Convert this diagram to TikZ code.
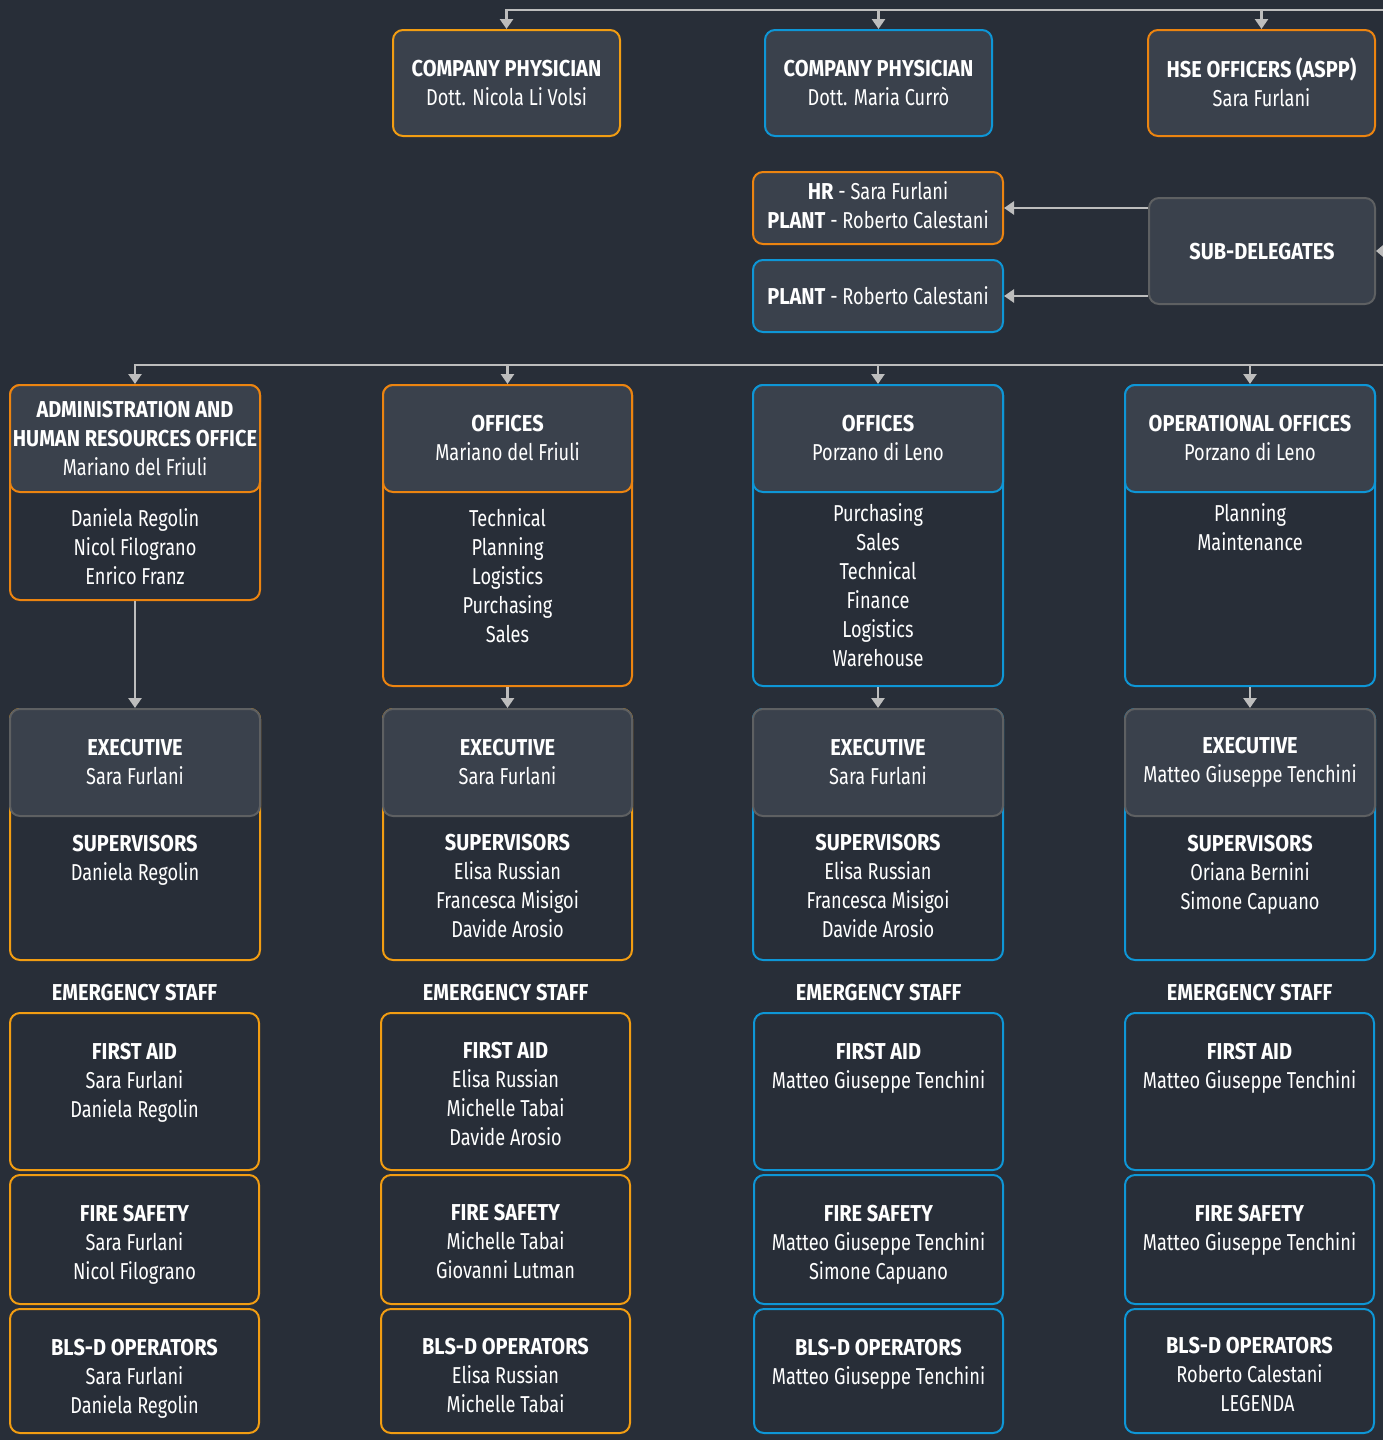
\documentclass[tikz,border=0pt]{standalone}
\usepackage{fontspec}
\setmainfont{Fira Sans}[UprightFeatures={FakeStretch=0.79},BoldFeatures={FakeStretch=0.87}]
\usepackage{tikz}
\usetikzlibrary{positioning,arrows.meta}
\definecolor{bg}{HTML}{282E38}
\definecolor{panel}{HTML}{3A414C}
\definecolor{rim}{HTML}{5E6062}
\definecolor{wire}{HTML}{BDBDBD}
\definecolor{orange}{HTML}{EC8410}
\definecolor{amber}{HTML}{F29D12}
\definecolor{sky}{HTML}{0E96D6}

\begin{document}
\begin{tikzpicture}[x=1pt,y=-1pt,
    every node/.style={text=white,font=\fontsize{23}{29}\selectfont,align=center,inner sep=0pt,
      execute at begin node={\rule{0pt}{28pt}},execute at end node={\rule[-1pt]{0pt}{1pt}}},
    box/.style={rounded corners=10pt,line width=2pt,fill=bg,minimum width=250pt},
    head/.style={box,fill=panel,minimum height=107pt},
    duty/.style={box,minimum width=249pt},
    conn/.style={draw=wire,line width=2.5pt,-{Triangle[length=10pt,width=13pt]}}]
    \fill[bg] (0,0) rectangle (1383,1440);
    \useasboundingbox (0,0) rectangle (1383,1440);
    % top row
    \node[head,draw=amber,minimum width=227pt,minimum height=106pt] (cpa) at (506.5,83) {\textbf{COMPANY PHYSICIAN}\\Dott. Nicola Li Volsi};
    \node[head,draw=sky,minimum width=227pt,minimum height=106pt] (cpb) at (878.5,83) {\textbf{COMPANY PHYSICIAN}\\Dott. Maria Currò};
    \node[head,draw=orange,minimum width=227pt,minimum height=106pt] (hse) at (1261.5,83) {\textbf{HSE OFFICERS (ASPP)}\\Sara Furlani};
    % sub-delegates
    \node[head,draw=orange,minimum height=72pt] (hr) at (878,208) {\textbf{HR} - Sara Furlani\\\textbf{PLANT} - Roberto Calestani\rule[-5pt]{0pt}{5pt}};
    \node[head,draw=sky,minimum height=72pt,below=14pt of hr] (plant) {\textbf{PLANT} - Roberto Calestani\rule[-12pt]{0pt}{12pt}};
    \node[head,draw=rim,minimum width=226pt,minimum height=106pt] (sub) at (1262,251) {\textbf{SUB-DELEGATES}\rule[-11pt]{0pt}{11pt}};
    % offices
    \node[box,draw=orange,minimum height=215pt] (adm) at (135,492.5) {};
    \node[head,draw=orange] (admh) at (135,438.5) {\textbf{ADMINISTRATION AND}\\\textbf{HUMAN RESOURCES OFFICE}\\Mariano del Friuli};
    \node (admt) at (135,547) {Daniela Regolin\\Nicol Filograno\\Enrico Franz};
    \node[box,draw=orange,minimum width=249pt,minimum height=301pt] (offa) at (507.5,535.5) {};
    \node[head,draw=orange,minimum width=249pt] (offah) at (507.5,438.5) {\textbf{OFFICES}\\Mariano del Friuli};
    \node (offat) at (507.5,576.5) {Technical\\Planning\\Logistics\\Purchasing\\Sales};
    \node[box,draw=sky,minimum height=301pt] (offb) at (878,535.5) {};
    \node[head,draw=sky] (offbh) at (878,438.5) {\textbf{OFFICES}\\Porzano di Leno};
    \node (offbt) at (878,586) {Purchasing\\Sales\\Technical\\Finance\\Logistics\\Warehouse};
    \node[box,draw=sky,minimum height=301pt] (ops) at (1250,535.5) {};
    \node[head,draw=sky] (opsh) at (1250,438.5) {\textbf{OPERATIONAL OFFICES}\\Porzano di Leno};
    \node (opst) at (1250,527.5) {Planning\\Maintenance};
    % executives
    \node[box,draw=amber,minimum height=251pt] (exa) at (135,834.5) {};
    \node[head,draw=rim] (exah) at (135,762.5) {\textbf{EXECUTIVE}\\Sara Furlani};
    \node (exat) at (135,860.5) {\textbf{SUPERVISORS}\\Daniela Regolin};
    \node[box,draw=amber,minimum width=249pt,minimum height=251pt] (exb) at (507.5,834.5) {};
    \node[head,draw=rim,minimum width=249pt] (exbh) at (507.5,762.5) {\textbf{EXECUTIVE}\\Sara Furlani};
    \node (exbt) at (507.5,886.5) {\textbf{SUPERVISORS}\\Elisa Russian\\Francesca Misigoi\\Davide Arosio};
    \node[box,draw=sky,minimum height=251pt] (exc) at (878,834.5) {};
    \node[head,draw=rim] (exch) at (878,762.5) {\textbf{EXECUTIVE}\\Sara Furlani};
    \node (exct) at (878,886.5) {\textbf{SUPERVISORS}\\Elisa Russian\\Francesca Misigoi\\Davide Arosio};
    \node[box,draw=sky,minimum height=251pt] (exd) at (1250,834.5) {};
    \node[head,draw=rim] (exdh) at (1250,762.5) {\textbf{EXECUTIVE}\\Matteo Giuseppe Tenchini};
    \node (exdt) at (1250,875) {\textbf{SUPERVISORS}\\Oriana Bernini\\Simone Capuano};
    % emergency staff
    \node (ema) at (134.5,987) {\textbf{EMERGENCY STAFF}};
    \node (emb) at (505.5,987) {\textbf{EMERGENCY STAFF}};
    \node (emc) at (878.5,987) {\textbf{EMERGENCY STAFF}};
    \node (emd) at (1249.5,987) {\textbf{EMERGENCY STAFF}};
    \node[duty,draw=amber,minimum height=157pt] (faa) at (134.5,1091.5) {};
    \node[duty,draw=amber,minimum height=129pt] (fsa) at (134.5,1239.5) {};
    \node[duty,draw=amber,minimum height=124pt] (bla) at (134.5,1371) {};
    \node[duty,draw=amber,minimum height=157pt] (fab) at (505.5,1091.5) {};
    \node[duty,draw=amber,minimum height=129pt] (fsb) at (505.5,1239.5) {};
    \node[duty,draw=amber,minimum height=124pt] (blb) at (505.5,1371) {};
    \node[duty,draw=sky,minimum height=157pt] (fac) at (878.5,1091.5) {};
    \node[duty,draw=sky,minimum height=129pt] (fsc) at (878.5,1239.5) {};
    \node[duty,draw=sky,minimum height=124pt] (blc) at (878.5,1371) {};
    \node[duty,draw=sky,minimum height=157pt] (fad) at (1249.5,1091.5) {};
    \node[duty,draw=sky,minimum height=129pt] (fsd) at (1249.5,1239.5) {};
    \node[duty,draw=sky,minimum height=124pt] (bld) at (1249.5,1371) {};
    \node (faat) at (134.5,1083) {\textbf{FIRST AID}\\Sara Furlani\\Daniela Regolin};
    \node (fsat) at (134.5,1245) {\textbf{FIRE SAFETY}\\Sara Furlani\\Nicol Filograno};
    \node (blat) at (134.5,1379) {\textbf{BLS-D OPERATORS}\\Sara Furlani\\Daniela Regolin};
    \node (fabt) at (505.5,1094.5) {\textbf{FIRST AID}\\Elisa Russian\\Michelle Tabai\\Davide Arosio};
    \node (fsbt) at (505.5,1242) {\textbf{FIRE SAFETY}\\Michelle Tabai\\Giovanni Lutman};
    \node (blbt) at (505.5,1376) {\textbf{BLS-D OPERATORS}\\Elisa Russian\\Michelle Tabai};
    \node (fact) at (878.5,1068.5) {\textbf{FIRST AID}\\Matteo Giuseppe Tenchini};
    \node (fsct) at (878.5,1245) {\textbf{FIRE SAFETY}\\Matteo Giuseppe Tenchini\\Simone Capuano};
    \node (blct) at (878.5,1364.5) {\textbf{BLS-D OPERATORS}\\Matteo Giuseppe Tenchini};
    \node (fadt) at (1249.5,1068.5) {\textbf{FIRST AID}\\Matteo Giuseppe Tenchini};
    \node (fsdt) at (1249.5,1230.5) {\textbf{FIRE SAFETY}\\Matteo Giuseppe Tenchini};
    \node (bldt) at (1249.5,1375) {\textbf{BLS-D OPERATORS}\\Roberto Calestani\\\hspace*{16pt}LEGENDA};
    % connectors
    \coordinate (topR) at (1383,10);
    \coordinate (midR) at (1383,365);
    \coordinate (subR) at (1383,251);
    \draw[conn] (topR) -| (cpa.north);
    \draw[conn] (cpb.north |- topR) -- (cpb.north);
    \draw[conn] (hse.north |- topR) -- (hse.north);
    \draw[conn,-{Triangle[length=8pt,width=13pt]}] (subR) -- (sub.east);
    \draw[conn] (sub.west |- hr.east) -- (hr.east);
    \draw[conn] (sub.west |- plant.east) -- (plant.east);
    \draw[conn] (midR) -| (admh.north);
    \draw[conn] (offah.north |- midR) -- (offah.north);
    \draw[conn] (offbh.north |- midR) -- (offbh.north);
    \draw[conn] (opsh.north |- midR) -- (opsh.north);
    \draw[conn] (adm.south) -- (exah.north);
    \draw[conn] (offa.south) -- (exbh.north);
    \draw[conn] (offb.south) -- (exch.north);
    \draw[conn] (ops.south) -- (exdh.north);
\end{tikzpicture}
\end{document}
